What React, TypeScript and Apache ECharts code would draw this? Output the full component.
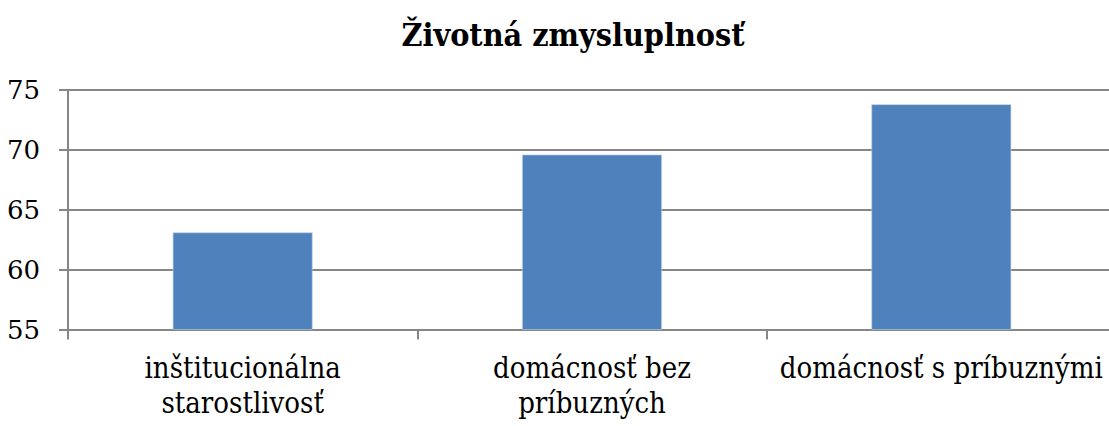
import React, { useEffect, useRef } from "react";
import * as echarts from "echarts";

const titleText = "Životná zmysluplnosť";
const categories = [
  "inštitucionálna\nstarostlivosť",
  "domácnosť bez\npríbuzných",
  "domácnosť s príbuznými",
];
const values = [63.1, 69.6, 73.8];
const yMin = 55;
const yMax = 75;
const yStep = 5;

const FONT = "DejaVu Serif Condensed";

export default function App() {
  const ref = useRef<HTMLDivElement>(null);
  useEffect(() => {
    document.body.style.margin = "0";
    const chart = echarts.init(ref.current!, null, { renderer: "svg" });
    chart.setOption({
      animation: false,
      backgroundColor: "#ffffff",
      title: {
        text: titleText,
        left: 568,
        top: 14,
        textAlign: "center",
        textStyle: {
          fontFamily: FONT,
          fontSize: 32,
          fontWeight: "bold",
          color: "#000000",
        },
      },
      grid: {
        left: 68,
        right: 0,
        top: 90,
        bottom: 96.5,
        containLabel: false,
        outerBoundsMode: "none",
      },
      xAxis: {
        type: "category",
        data: categories,
        boundaryGap: true,
        axisLine: { show: true, lineStyle: { color: "#878787", width: 2 } },
        axisTick: { show: true, length: 10, lineStyle: { color: "#878787", width: 2 } },
        axisLabel: {
          interval: 0,
          margin: 21,
          color: "#000000",
          fontFamily: FONT,
          fontSize: 29,
          lineHeight: 35,
          hideOverlap: false,
        },
      },
      yAxis: {
        type: "value",
        min: yMin,
        max: yMax,
        interval: yStep,
        axisLine: { show: true, lineStyle: { color: "#878787", width: 2 } },
        axisTick: { show: true, length: 9, lineStyle: { color: "#878787", width: 2 } },
        splitLine: { show: true, lineStyle: { color: "#878787", width: 2 } },
        axisLabel: {
          margin: 28,
          color: "#000000",
          fontFamily: "DejaVu Serif",
          fontSize: 26,
        },
      },
      series: [
        {
          type: "bar",
          data: values,
          barCategoryGap: "60%",
          itemStyle: { color: "#4F81BD", borderColor: "#B9CDE5", borderWidth: 0.6 },
        },
      ],
    });
    return () => chart.dispose();
  }, []);
  return (
    <div style={{ width: 1109, height: 426, overflow: "hidden", position: "relative" }}>
      <div ref={ref} style={{ width: 1116, height: 426, position: "absolute", left: 0, top: 0 }} />
    </div>
  );
}
